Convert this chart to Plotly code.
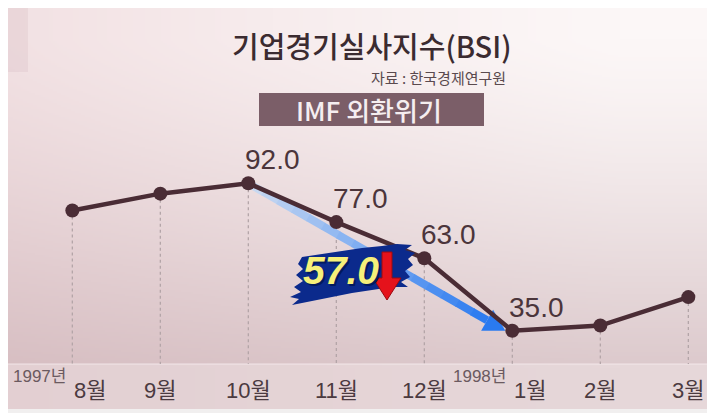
import base64
import struct
import zlib

import numpy as np
import plotly.graph_objects as go

# ---------------- data ----------------
months = ["8월", "9월", "10월", "11월", "12월", "1월", "2월", "3월"]
years = ["1997년", "", "", "", "", "1998년", "", ""]
bsi = [81.5, 88.0, 92.0, 77.0, 63.0, 35.0, 37.0, 48.0]
show_value = [False, False, True, True, True, True, False, False]
title_text = "기업경기실사지수(BSI)"
source_text = "자료 : 한국경제연구원"
event_text = "IMF 외환위기"
drop_from, drop_to = 2, 5  # 10월 -> 1월

# ---------------- layout constants ----------------
OFF = 8                      # page body margin
W, H = 707, 405              # figure size (fits the 715x413 window)
XR = [-0.731, 7.303]
YR = [3.18, 159.79]
kx = W / (XR[1] - XR[0])
ky = H / (YR[1] - YR[0])


def sxp(sx):  # screen x -> paper
    return (sx - OFF) / W


def syp(sy):  # screen y -> paper
    return 1 - (sy - OFF) / H


def sy_to_y(sy):  # screen y -> data y
    return YR[1] - (sy - OFF) / ky


LINE_COL = "#4a2c35"
TEXT_COL = "#4b353b"
FONT = "Liberation Sans, Noto Sans CJK KR, sans-serif"
KFONT = "Noto Sans CJK KR, Liberation Sans, sans-serif"


# ---------------- background gradient image ----------------
def make_png(arr):
    h, w, _ = arr.shape
    raw = b"".join(b"\x00" + arr[r].tobytes() for r in range(h))

    def chunk(tag, data):
        c = struct.pack(">I", len(data)) + tag + data
        return c + struct.pack(">I", zlib.crc32(tag + data) & 0xFFFFFFFF)

    return (b"\x89PNG\r\n\x1a\n" + chunk(b"IHDR", struct.pack(">IIBBBBB", w, h, 8, 2, 0, 0, 0))
            + chunk(b"IDAT", zlib.compress(raw, 9)) + chunk(b"IEND", b""))


sc = 2
gx, gy = np.meshgrid(np.arange(0, W, sc) + sc / 2 + OFF, np.arange(0, H, sc) + sc / 2 + OFF)
vert = np.clip((gy - 40) / 330, 0, 1) ** 1.3
left = np.clip((620 - gx) / 620, 0, 1) ** 1.2
light = np.array([252, 247, 247], float)
col = (light[None, None, :]
       - vert[..., None] * np.array([32, 46, 43])
       - (left * (1 - 0.5 * vert))[..., None] * np.array([10, 22, 20]))
img = np.clip(col, 0, 255).astype(np.uint8)
bg_uri = "data:image/png;base64," + base64.b64encode(make_png(img)).decode()

fig = go.Figure()

# dotted drop lines
band_top = sy_to_y(364)
gx_l, gy_l = [], []
for i, v in enumerate(bsi):
    gx_l += [i, i, None]
    gy_l += [v, band_top, None]
fig.add_trace(go.Scatter(x=gx_l, y=gy_l, mode="lines",
                         line=dict(color="#b3a5a8", width=1.3, dash="dot"),
                         hoverinfo="skip", showlegend=False))

# blue gradient arrow from 10월 to 1월
sx, sy = drop_from, bsi[drop_from]
tx, ty = drop_to - 7 / kx, bsi[drop_to]
dpx, dpy = (tx - sx) * kx, -(ty - sy) * ky
L = (dpx ** 2 + dpy ** 2) ** 0.5
ux, uy = dpx / L, dpy / L
head_len, head_half = 21, 12
ex = tx - head_len * ux / kx
ey = ty + head_len * uy / ky
N = 16
c0 = np.array([205, 220, 242])
c1 = np.array([42, 122, 240])
for k in range(N):
    t0, t1 = k / N, (k + 1.05) / N
    c = (c0 + (c1 - c0) * ((k + 0.5) / N)).astype(int)
    fig.add_trace(go.Scatter(x=[sx + (ex - sx) * t0, sx + (ex - sx) * min(t1, 1)],
                             y=[sy + (ey - sy) * t0, sy + (ey - sy) * min(t1, 1)],
                             mode="lines", line=dict(color=f"rgb({c[0]},{c[1]},{c[2]})", width=8),
                             hoverinfo="skip", showlegend=False))
nx, ny = -uy, ux
hx = [tx, ex + head_half * nx / kx, ex - head_half * nx / kx, tx]
hy = [ty, ey - head_half * ny / ky, ey + head_half * ny / ky, ty]
fig.add_trace(go.Scatter(x=hx, y=hy, mode="lines", fill="toself",
                         fillcolor="rgb(42,122,240)", line=dict(width=0, color="rgb(42,122,240)"),
                         hoverinfo="skip", showlegend=False))

# main line
fig.add_trace(go.Scatter(x=list(range(len(months))), y=bsi, mode="lines+markers",
                         line=dict(color=LINE_COL, width=4.5),
                         marker=dict(size=14, color=LINE_COL),
                         hoverinfo="skip", showlegend=False))

shapes = []
# bottom band
shapes.append(dict(type="rect", xref="paper", yref="paper", x0=0, x1=1, y0=syp(409), y1=syp(364),
                   fillcolor="rgba(250,240,242,0.35)", line=dict(width=0), layer="below"))
shapes.append(dict(type="line", xref="paper", yref="paper", x0=0, x1=1, y0=syp(364), y1=syp(364),
                   line=dict(color="rgba(248,238,240,0.8)", width=1.2), layer="below"))
shapes.append(dict(type="rect", xref="paper", yref="paper", x0=0, x1=1, y0=0, y1=syp(409),
                   fillcolor="#f1efef", line=dict(width=0), layer="above"))
# top-left tinted block
shapes.append(dict(type="rect", xref="paper", yref="paper", x0=0, x1=sxp(28), y0=syp(72), y1=1,
                   fillcolor="rgba(215,190,194,0.3)", line=dict(width=0), layer="below"))
# event box
shapes.append(dict(type="rect", xref="paper", yref="paper", x0=sxp(259), x1=sxp(484),
                   y0=syp(126), y1=syp(93), fillcolor="#7b5e68", line=dict(width=0)))

# 57.0 brush badge
bx, by = sxp(352), syp(274)
brush = [(-54, 10), (-50, 17), (-30, 20), (-10, 23), (10, 26), (30, 28), (45, 30), (60, 29), (53, 24),
         (63, 21), (56, 15), (61, 9), (53, 3), (58, -3), (49, -8), (56, -13), (40, -13), (20, -16),
         (0, -19), (-20, -23), (-40, -27), (-60, -31), (-53, -25), (-62, -23), (-51, -18), (-58, -13),
         (-49, -7), (-56, -1), (-49, 5)]
path = "M " + " L ".join(f"{p[0]} {p[1]}" for p in brush) + " Z"
shapes.append(dict(type="path", xref="paper", yref="paper", xsizemode="pixel", ysizemode="pixel",
                   xanchor=bx, yanchor=by, path=path, fillcolor="#0b2a8c",
                   line=dict(width=0), layer="above"))
arrow = [(30, 22), (40, 22), (40, -4), (49, -4), (35, -26), (21, -4), (30, -4)]
apath = "M " + " L ".join(f"{p[0]} {p[1]}" for p in arrow) + " Z"
shapes.append(dict(type="path", xref="paper", yref="paper", xsizemode="pixel", ysizemode="pixel",
                   xanchor=bx, yanchor=by, path=apath, fillcolor="#e5121b",
                   line=dict(width=1, color="#9a0a10"), layer="above"))

annotations = []
# value labels
for i, (v, s) in enumerate(zip(bsi, show_value)):
    if s:
        annotations.append(dict(x=i, y=v, xref="x", yref="y", text=f"{v:.1f}", showarrow=False,
                                xanchor="left", yanchor="bottom", xshift=-5, yshift=6,
                                font=dict(family=FONT, size=28, color=TEXT_COL)))
# month / year labels
for i, (m, yr) in enumerate(zip(months, years)):
    shift = 18 if yr else 0
    annotations.append(dict(x=i, y=syp(390), xref="x", yref="paper", text=m, showarrow=False,
                            xanchor="center", yanchor="middle", xshift=shift,
                            font=dict(family=FONT, size=22, color="#4b3a40")))
    if yr:
        annotations.append(dict(x=i, y=syp(376), xref="x", yref="paper", text=yr, showarrow=False,
                                xanchor="right", yanchor="middle", xshift=-4,
                                font=dict(family=FONT, size=17, color="#6b5a60")))
# titles
annotations.append(dict(x=sxp(372), y=syp(45), xref="paper", yref="paper", text=title_text,
                        showarrow=False, xanchor="center", yanchor="middle",
                        font=dict(family=KFONT, size=29, color="#3b2b30", weight=500)))
annotations.append(dict(x=sxp(508), y=syp(77), xref="paper", yref="paper", text=source_text,
                        showarrow=False, xanchor="right", yanchor="middle",
                        font=dict(family=KFONT, size=15, color="#5a4a4e")))
annotations.append(dict(x=sxp(369), y=syp(110), xref="paper", yref="paper", text=event_text,
                        showarrow=False, xanchor="center", yanchor="middle",
                        font=dict(family=KFONT, size=26, color="#f5eef0", weight=500)))
# badge text
drop = bsi[drop_from] - bsi[drop_to]
annotations.append(dict(x=bx, y=by, xref="paper", yref="paper", text=f"<b><i>{drop:.1f}</i></b>",
                        showarrow=False, xanchor="center", yanchor="middle", xshift=-11, yshift=4,
                        font=dict(family=FONT, size=39, color="#f6f07a",
                                  shadow="2px 2px 0px #021a5e")))

fig.update_layout(
    width=W, height=H,
    margin=dict(l=0, r=0, t=0, b=0),
    paper_bgcolor="#f4ecec",
    plot_bgcolor="rgba(0,0,0,0)",
    xaxis=dict(range=XR, visible=False, fixedrange=True),
    yaxis=dict(range=YR, visible=False, fixedrange=True),
    images=[dict(source=bg_uri, xref="paper", yref="paper", x=0, y=1, sizex=1, sizey=1,
                 sizing="stretch", layer="below", xanchor="left", yanchor="top")],
    shapes=shapes,
    annotations=annotations,
    showlegend=False,
)

fig.write_html("out.html")
